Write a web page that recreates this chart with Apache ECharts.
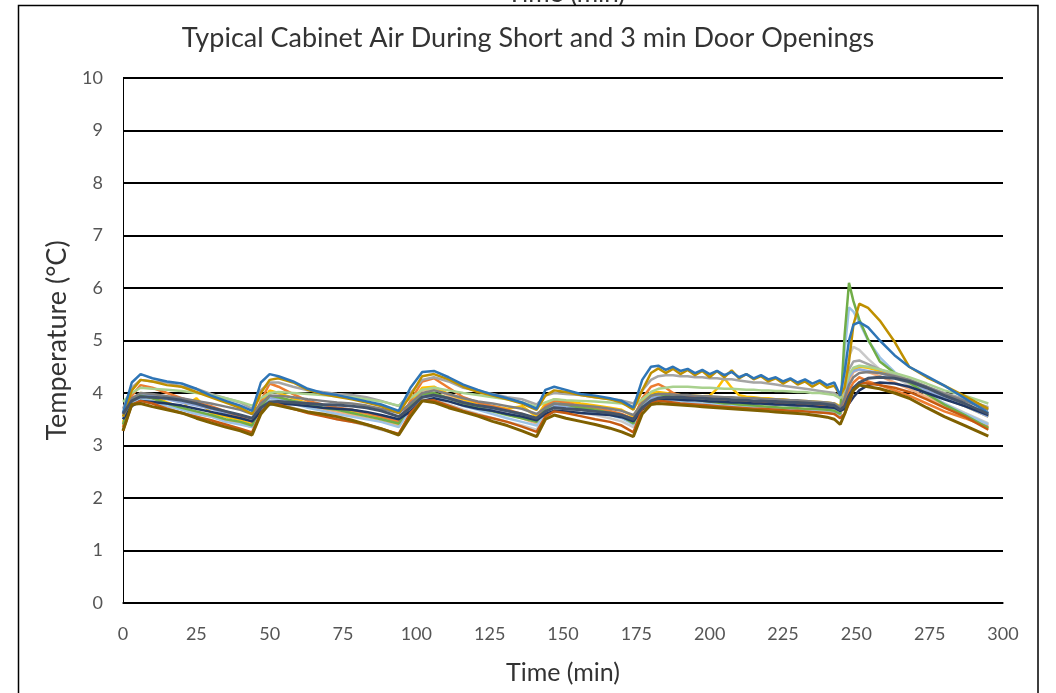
<!DOCTYPE html>
<html>
<head>
<meta charset="utf-8">
<script src="https://cdn.jsdelivr.net/npm/echarts@6/dist/echarts.min.js"></script>
<style>html,body{margin:0;padding:0;background:#fff;}#c{width:1056px;height:693px;}</style>
</head>
<body>
<div id="c"></div>
<script>
const titleText = 'Typical Cabinet Air During Short and 3 min Door Openings';
const xName = 'Time (min)';
const yName = 'Temperature (°C)';
const xTicks = [0,25,50,75,100,125,150,175,200,225,250,275,300];
const yTicks = [0,1,2,3,4,5,6,7,8,9,10];

const time = [0,3,6,10,15,20,25,30,35,40,44,
  47,50,53,58,63,68,73,78,83,88,94,
  98,102,106,111,116,121,126,131,136,141,
  144,147,151,156,161,166,170,174,
  177,180,182.5,185,187.5,190,192.5,195,197.5,200,202.5,205,207.5,210,212.5,215,217.5,220,222.5,225,227.5,230,232.5,235,237.5,240,242.5,244.5,
  246,247.5,249,251,254,258,263,268,274,280,287,295];

const blue = [3.62,4.2,4.36,4.28,4.22,4.18,4.08,3.95,3.85,3.76,3.66,
  4.2,4.36,4.32,4.22,4.08,4.0,3.96,3.9,3.84,3.78,3.66,
  4.1,4.4,4.42,4.3,4.16,4.06,3.97,3.9,3.82,3.7,
  4.06,4.12,4.06,3.98,3.95,3.9,3.85,3.72,
  4.25,4.5,4.52,4.44,4.5,4.42,4.46,4.38,4.44,4.36,4.42,4.34,4.4,4.3,4.36,4.28,4.34,4.26,4.3,4.22,4.28,4.2,4.26,4.18,4.24,4.15,4.2,3.95,
  4.4,5.0,5.3,5.35,5.25,5.0,4.72,4.5,4.32,4.14,3.9,3.62];
const gold = [3.55,4.05,4.25,4.22,4.15,4.12,4.02,3.92,3.82,3.72,3.6,
  4.0,4.25,4.28,4.2,4.06,3.98,3.93,3.88,3.82,3.75,3.62,
  3.95,4.32,4.36,4.26,4.12,4.02,3.95,3.88,3.8,3.68,
  3.95,4.05,4.02,3.96,3.92,3.88,3.82,3.68,
  4.05,4.38,4.47,4.38,4.46,4.36,4.44,4.34,4.42,4.3,4.42,4.3,4.43,4.28,4.36,4.26,4.32,4.22,4.28,4.18,4.26,4.16,4.22,4.12,4.2,4.1,4.14,3.95,
  4.1,4.6,5.3,5.7,5.62,5.38,4.98,4.5,4.3,4.14,3.94,3.7];
const gray = [3.7,4.1,4.25,4.22,4.2,4.12,4.08,3.98,3.9,3.82,3.7,
  4.05,4.2,4.2,4.12,4.05,4.02,3.98,3.96,3.92,3.85,3.75,
  4.0,4.25,4.3,4.22,4.1,4.04,3.98,3.92,3.88,3.78,
  3.95,4.0,3.98,3.96,3.92,3.88,3.86,3.8,
  4.05,4.25,4.32,4.34,4.34,4.32,4.32,4.3,4.3,4.28,4.28,4.26,4.26,4.24,4.22,4.2,4.2,4.18,4.16,4.14,4.12,4.1,4.08,4.06,4.04,4.02,4.0,3.9,
  4.1,4.45,4.6,4.62,4.55,4.45,4.35,4.25,4.12,4.0,3.88,3.73];
const orange = [3.35,3.95,4.15,4.1,4.0,3.9,3.82,3.75,3.65,3.55,3.45,
  3.85,4.18,4.12,3.98,3.85,3.78,3.72,3.68,3.62,3.55,3.45,
  3.85,4.22,4.28,4.1,3.92,3.82,3.75,3.68,3.6,3.5,
  3.75,3.85,3.82,3.75,3.7,3.66,3.6,3.5,
  3.9,4.12,4.17,4.1,4.0,3.95,3.93,3.92,3.9,3.9,3.88,3.87,3.86,3.85,3.85,3.84,3.83,3.82,3.82,3.8,3.8,3.79,3.78,3.77,3.76,3.75,3.74,3.7,
  3.8,4.05,4.2,4.3,4.22,4.15,4.05,3.95,3.8,3.65,3.52,3.35];
const yellow = [3.45,3.85,4.0,3.95,3.82,3.72,3.9,3.62,3.55,3.48,3.4,
  3.8,4.05,4.0,3.9,3.8,3.75,3.7,3.65,3.6,3.52,3.42,
  3.8,4.1,4.12,3.98,3.88,3.8,3.75,3.7,3.75,3.55,
  3.8,3.88,3.85,3.8,3.76,3.72,3.68,3.55,
  3.85,4.0,4.02,4.0,3.98,3.96,3.95,3.95,3.94,3.95,4.08,4.28,4.1,3.96,3.93,3.92,3.9,3.9,3.88,3.88,3.86,3.85,3.85,3.84,3.83,3.82,3.8,3.75,
  3.95,4.3,4.45,4.5,4.48,4.42,4.32,4.2,4.05,3.9,3.75,3.55];
const green = [3.4,3.85,3.95,3.9,3.8,3.72,3.65,3.58,3.5,3.45,3.38,
  3.75,3.95,3.92,3.85,3.78,3.72,3.68,3.62,3.56,3.5,3.42,
  3.75,3.98,4.0,3.9,3.8,3.72,3.65,3.58,3.52,3.45,
  3.7,3.8,3.78,3.72,3.68,3.62,3.56,3.42,
  3.8,3.95,3.98,3.95,3.93,3.9,3.88,3.87,3.85,3.84,3.82,3.8,3.8,3.78,3.77,3.76,3.75,3.74,3.73,3.72,3.72,3.71,3.7,3.7,3.69,3.68,3.66,3.6,
  5.1,6.1,5.75,5.4,5.02,4.6,4.38,4.2,3.98,3.78,3.58,3.33];
const lightBlue = [3.4,3.8,3.9,3.85,3.75,3.68,3.6,3.55,3.45,3.4,3.35,
  3.7,3.9,3.86,3.8,3.72,3.66,3.6,3.55,3.5,3.45,3.35,
  3.7,3.92,3.94,3.85,3.75,3.68,3.6,3.52,3.45,3.38,
  3.65,3.75,3.72,3.68,3.62,3.58,3.52,3.4,
  3.75,3.88,3.9,3.88,3.86,3.85,3.83,3.82,3.8,3.8,3.78,3.77,3.76,3.75,3.74,3.73,3.72,3.72,3.7,3.7,3.69,3.68,3.67,3.66,3.65,3.64,3.62,3.55,
  4.8,5.63,5.55,5.35,5.0,4.68,4.4,4.2,4.0,3.8,3.6,3.4];
const lightGray = [3.3,3.8,3.88,3.82,3.72,3.62,3.55,3.45,3.38,3.3,3.22,
  3.65,3.85,3.8,3.72,3.65,3.58,3.5,3.45,3.38,3.3,3.22,
  3.6,3.85,3.88,3.78,3.68,3.6,3.52,3.45,3.38,3.3,
  3.6,3.7,3.68,3.62,3.58,3.52,3.46,3.35,
  3.72,3.85,3.88,3.86,3.84,3.82,3.8,3.79,3.78,3.77,3.76,3.75,3.74,3.73,3.72,3.71,3.7,3.7,3.69,3.68,3.67,3.66,3.65,3.64,3.63,3.62,3.6,3.55,
  4.2,4.7,4.88,4.82,4.65,4.45,4.3,4.15,3.98,3.8,3.62,3.42];
const lightGreen = [3.83,4.0,4.1,4.08,4.06,4.04,4.0,3.96,3.9,3.83,3.76,
  3.9,4.0,4.02,4.0,3.98,3.96,3.94,3.92,3.88,3.84,3.76,
  3.9,4.06,4.1,4.05,4.0,3.96,3.92,3.88,3.82,3.74,
  3.82,3.88,3.86,3.85,3.84,3.82,3.8,3.74,
  3.88,4.02,4.08,4.1,4.12,4.12,4.12,4.11,4.1,4.1,4.09,4.08,4.08,4.07,4.06,4.06,4.05,4.05,4.04,4.04,4.03,4.02,4.02,4.0,4.0,3.98,3.96,3.9,
  4.1,4.35,4.48,4.52,4.5,4.45,4.38,4.3,4.18,4.05,3.95,3.8];
const slate = [3.6,3.85,3.93,3.92,3.9,3.86,3.8,3.72,3.65,3.58,3.52,
  3.72,3.83,3.84,3.82,3.8,3.78,3.77,3.75,3.72,3.66,3.55,
  3.72,3.92,3.96,3.9,3.82,3.76,3.72,3.66,3.6,3.52,
  3.65,3.72,3.7,3.68,3.65,3.62,3.58,3.5,
  3.72,3.85,3.9,3.92,3.92,3.92,3.91,3.9,3.9,3.89,3.88,3.88,3.87,3.86,3.86,3.85,3.85,3.84,3.84,3.83,3.82,3.82,3.81,3.8,3.8,3.78,3.76,3.68,
  3.75,3.95,4.1,4.2,4.28,4.3,4.28,4.22,4.1,3.95,3.8,3.6];
const navy = [3.5,3.75,3.85,3.83,3.8,3.76,3.7,3.64,3.58,3.52,3.46,
  3.65,3.78,3.8,3.78,3.75,3.72,3.7,3.68,3.64,3.58,3.5,
  3.65,3.85,3.9,3.84,3.76,3.7,3.66,3.6,3.55,3.48,
  3.6,3.66,3.65,3.62,3.6,3.58,3.54,3.46,
  3.68,3.8,3.86,3.88,3.88,3.87,3.86,3.86,3.85,3.84,3.84,3.83,3.82,3.82,3.81,3.8,3.8,3.79,3.78,3.78,3.77,3.76,3.76,3.75,3.74,3.73,3.72,3.66,
  3.7,3.8,3.92,4.05,4.15,4.2,4.18,4.12,4.0,3.88,3.75,3.58];
const brown = [3.28,3.78,3.85,3.8,3.7,3.62,3.55,3.48,3.4,3.32,3.25,
  3.62,3.82,3.78,3.7,3.62,3.56,3.5,3.45,3.4,3.32,3.22,
  3.62,3.85,3.86,3.76,3.66,3.58,3.52,3.45,3.36,3.26,
  3.55,3.65,3.62,3.56,3.5,3.45,3.38,3.25,
  3.7,3.82,3.85,3.84,3.82,3.8,3.79,3.78,3.77,3.76,3.75,3.74,3.73,3.72,3.71,3.7,3.7,3.69,3.68,3.67,3.66,3.66,3.65,3.64,3.63,3.62,3.6,3.52,
  3.6,3.8,4.05,4.2,4.18,4.15,4.1,4.02,3.88,3.72,3.55,3.3];
const olive = [3.28,3.78,3.8,3.74,3.68,3.62,3.52,3.43,3.35,3.28,3.2,
  3.6,3.8,3.76,3.7,3.64,3.6,3.55,3.48,3.4,3.32,3.2,
  3.55,3.85,3.82,3.72,3.64,3.56,3.46,3.38,3.28,3.17,
  3.5,3.58,3.52,3.46,3.4,3.33,3.26,3.17,
  3.6,3.78,3.8,3.79,3.78,3.77,3.76,3.75,3.74,3.73,3.72,3.71,3.7,3.69,3.68,3.67,3.66,3.65,3.64,3.63,3.62,3.61,3.6,3.58,3.56,3.54,3.5,3.4,
  3.6,3.85,4.05,4.15,4.12,4.08,4.0,3.9,3.72,3.55,3.38,3.18];
const lightOrange = [3.42,3.82,3.95,3.9,3.8,3.7,3.62,3.55,3.48,3.42,3.35,
  3.72,3.95,3.92,3.84,3.76,3.7,3.64,3.58,3.52,3.46,3.38,
  3.75,4.05,4.08,3.95,3.84,3.76,3.68,3.6,3.52,3.42,
  3.68,3.78,3.75,3.7,3.65,3.6,3.54,3.45,
  3.78,3.92,3.94,3.9,3.88,3.86,3.84,3.82,3.81,3.8,3.79,3.78,3.77,3.76,3.75,3.74,3.73,3.72,3.71,3.7,3.69,3.68,3.67,3.66,3.65,3.64,3.62,3.56,
  3.9,4.2,4.4,4.45,4.4,4.32,4.2,4.08,3.92,3.75,3.58,3.38];
const darkGray = [3.55,3.9,4.0,3.98,3.94,3.9,3.85,3.8,3.74,3.68,3.6,
  3.8,3.95,3.95,3.92,3.88,3.85,3.82,3.8,3.76,3.7,3.62,
  3.8,4.0,4.05,3.98,3.9,3.84,3.8,3.75,3.7,3.6,
  3.72,3.8,3.78,3.76,3.74,3.7,3.66,3.58,
  3.8,3.95,3.98,3.98,3.97,3.96,3.96,3.95,3.94,3.94,3.93,3.92,3.92,3.91,3.9,3.9,3.89,3.88,3.88,3.87,3.86,3.86,3.85,3.84,3.83,3.82,3.8,3.72,
  3.9,4.15,4.3,4.38,4.4,4.38,4.32,4.25,4.12,3.98,3.85,3.68];
const midBlue = [3.5,3.85,3.98,3.95,3.88,3.82,3.76,3.7,3.62,3.56,3.48,
  3.75,3.92,3.9,3.85,3.8,3.76,3.72,3.68,3.62,3.56,3.48,
  3.75,3.95,3.98,3.9,3.82,3.76,3.7,3.65,3.58,3.5,
  3.68,3.76,3.74,3.7,3.66,3.62,3.58,3.48,
  3.75,3.9,3.93,3.92,3.9,3.89,3.88,3.87,3.86,3.85,3.84,3.84,3.83,3.82,3.81,3.8,3.8,3.79,3.78,3.77,3.76,3.76,3.75,3.74,3.73,3.72,3.7,3.62,
  3.9,4.3,4.42,4.45,4.42,4.38,4.3,4.2,4.05,3.9,3.75,3.55];

const seriesList = [
  {name:'S1', data: lightGray, color:'#C9C9C9', w:2.5},
  {name:'S2', data: lightOrange, color:'#F4B183', w:2.5},
  {name:'S3', data: yellow, color:'#FFC000', w:2.5},
  {name:'S4', data: lightBlue, color:'#9DC3E6', w:2.5},
  {name:'S5', data: midBlue, color:'#8FAADC', w:2.5},
  {name:'S6', data: orange, color:'#ED7D31', w:2.5},
  {name:'S7', data: green, color:'#70AD47', w:2.5},
  {name:'S8', data: gray, color:'#A5A5A5', w:2.5},
  {name:'S9', data: lightGreen, color:'#A9D18E', w:2.5},
  {name:'S10', data: navy, color:'#203864', w:2.5},
  {name:'S11', data: brown, color:'#C55A11', w:2.5},
  {name:'S12', data: darkGray, color:'#7F7F7F', w:2.5},
  {name:'S13', data: gold, color:'#BF9000', w:2.5},
  {name:'S14', data: blue, color:'#2E75B6', w:2.5},
  {name:'S15', data: slate, color:'#44546A', w:3},
  {name:'S16', data: olive, color:'#7F6000', w:3}
];

const FONT = 'Lato, "Open Sans", sans-serif';
const chart = echarts.init(document.getElementById('c'), null, {renderer:'canvas'});
chart.setOption({
  animation: false,
  backgroundColor: '#fff',
  title: {
    text: titleText, left: 'center', top: 20,
    textStyle: {fontFamily: FONT, fontSize: 27, fontWeight: 'normal', color: '#333'}
  },
  graphic: [
    {type:'rect', shape:{x:18.5, y:5.5, width:1019.5, height:700}, style:{fill:null, stroke:'#000', lineWidth:1.5}, silent:true, z:100},
    {type:'text', x:566, y:-6, style:{text:'Time (min)', font:'26px Lato, sans-serif', fill:'#333', textAlign:'center', textVerticalAlign:'middle'}, silent:true, z:99}
  ],
  grid: {left:123, right:53, top:78, bottom:90, containLabel:false},
  xAxis: {
    type:'value', min:0, max:300, interval:25,
    name: xName, nameLocation:'middle', nameGap:57,
    nameTextStyle:{fontFamily:FONT, fontSize:25, color:'#333'},
    axisLine:{show:true, onZero:false, lineStyle:{color:'#000', width:1.5}},
    axisTick:{show:false},
    splitLine:{show:false},
    axisLabel:{fontFamily:FONT, fontSize:18, color:'#555', margin:22,
      customValues: xTicks}
  },
  yAxis: {
    type:'value', min:0, max:10, interval:1,
    name: yName, nameLocation:'middle', nameGap:52, nameRotate:90,
    nameTextStyle:{fontFamily:FONT, fontSize:27, color:'#333'},
    axisLine:{show:true, lineStyle:{color:'#000', width:1}},
    axisTick:{show:false},
    splitLine:{show:true, lineStyle:{color:'#000', width:2}},
    axisLabel:{fontFamily:FONT, fontSize:18, color:'#555', margin:20,
      customValues: yTicks}
  },
  series: seriesList.map(s => ({
    name: s.name, type:'line', showSymbol:false, symbol:'none',
    data: time.map((t,i) => [t, s.data[i]]),
    lineStyle:{color:s.color, width:s.w}, itemStyle:{color:s.color},
    emphasis:{disabled:true}
  }))
});
</script>
</body>
</html>
